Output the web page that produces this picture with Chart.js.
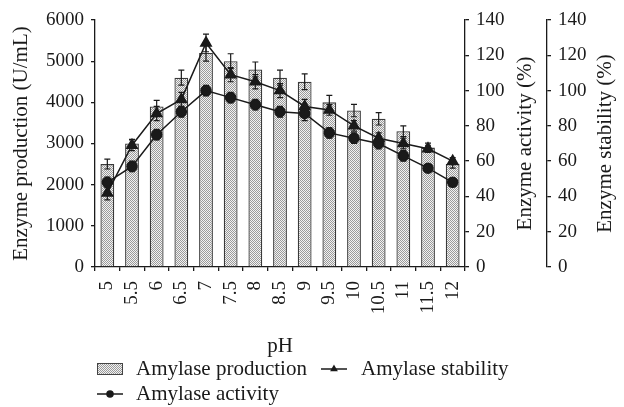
<!DOCTYPE html>
<html>
<head>
<meta charset="utf-8">
<script src="https://cdn.jsdelivr.net/npm/chart.js@4.4.1/dist/chart.umd.min.js"></script>
<style>
  html, body { margin: 0; padding: 0; background: #fff; }
  #wrap { width: 624px; height: 407px; position: relative; }
</style>
</head>
<body>
<div id="wrap"><canvas id="phChart" width="624" height="407"></canvas></div>
<script>
// pH values on the x axis
const phLabels = ['5', '5.5', '6', '6.5', '7', '7.5', '8', '8.5', '9', '9.5', '10', '10.5', '11', '11.5', '12'];

// Amylase production (U/mL), left axis
const production = [2500, 3000, 3900, 4600, 5200, 5000, 4800, 4600, 4500, 4000, 3800, 3600, 3300, 2900, 2500];
const productionErr = [120, 100, 150, 180, 200, 180, 180, 180, 190, 170, 150, 150, 130, 110, 100];

// Amylase activity (%), right axis
const activity = [48, 57, 75, 88, 100, 96, 92, 88, 87, 76, 73, 70, 63, 56, 48];
const activityErr = [3, 3, 3, 3, 3, 3, 3, 3, 4, 3, 3, 3, 3, 2, 2];

// Amylase stability (%), right axis
const stability = [42, 69, 87, 95, 127, 109, 105, 100, 91, 89, 80, 73, 70, 67, 60];
const stabilityErr = [4, 3, 4, 4, 5, 4, 4, 4, 4, 3, 3, 3, 3, 2, 2];

const FONT = "'Liberation Serif', 'DejaVu Serif', serif";
const INK = '#1a1a1a';

const canvas = document.getElementById('phChart');
const ctx = canvas.getContext('2d');

// fine grey dot pattern like the printed bars
function makeDotPattern() {
    const tile = document.createElement('canvas');
    tile.width = 2; tile.height = 2;
    const g = tile.getContext('2d');
    g.fillStyle = '#f2f2f2';
    g.fillRect(0, 0, 2, 2);
    g.fillStyle = '#9a9a9a';
    g.fillRect(0, 0, 1, 1);
    g.fillRect(1, 1, 1, 1);
    return ctx.createPattern(tile, 'repeat');
}
const dots = makeDotPattern();

function drawWhiskers(chart, index) {
    const ds = chart.data.datasets[index];
    const meta = chart.getDatasetMeta(index);
    const yScale = chart.scales[ds.yAxisID];
    const c = chart.ctx;
    c.save();
    c.strokeStyle = INK;
    c.lineWidth = 1.2;
    meta.data.forEach((el, i) => {
        const x = el.x;
        const top = yScale.getPixelForValue(ds.data[i] + ds.errors[i]);
        const bot = yScale.getPixelForValue(ds.data[i] - ds.errors[i]);
        const cap = 3;
        c.beginPath();
        c.moveTo(x, top); c.lineTo(x, bot);
        c.moveTo(x - cap, top); c.lineTo(x + cap, top);
        c.moveTo(x - cap, bot); c.lineTo(x + cap, bot);
        c.stroke();
    });
    c.restore();
}

// error bars: bars get them on top, lines get them under the markers
const errorBars = {
    id: 'errorBars',
    beforeDatasetDraw(chart, args) {
        const ds = chart.data.datasets[args.index];
        if (ds.errors && ds.type === 'line') drawWhiskers(chart, args.index);
    },
    afterDatasetDraw(chart, args) {
        const ds = chart.data.datasets[args.index];
        if (ds.errors && ds.type === 'bar') drawWhiskers(chart, args.index);
    }
};

// axis titles (right ones read bottom-to-top) + legend under the chart
const decorations = {
    id: 'decorations',
    afterDraw(chart) {
        const c = chart.ctx;
        const area = chart.chartArea;
        const midY = (area.top + area.bottom) / 2;
        c.save();
        c.fillStyle = INK;
        c.font = '21px ' + FONT;
        c.textAlign = 'center';
        c.textBaseline = 'middle';

        const vTitle = (x, text) => {
            c.save();
            c.translate(x, midY);
            c.rotate(-Math.PI / 2);
            c.fillText(text, 0, 0);
            c.restore();
        };
        vTitle(21, 'Enzyme production (U/mL)');
        vTitle(chart.scales.y1.left + 60, 'Enzyme activity (%)');
        vTitle(chart.scales.y2.left + 58, 'Enzyme stability (%)');

        // legend
        c.textAlign = 'left';
        const row1 = 369, row2 = 394;
        // bar swatch
        c.fillStyle = dots;
        c.fillRect(97, row1 - 6, 26, 12);
        c.strokeStyle = '#444';
        c.lineWidth = 1;
        c.strokeRect(97.5, row1 - 5.5, 25, 11);
        c.fillStyle = INK;
        c.fillText('Amylase production', 136, row1);

        // line swatches
        const lineSwatch = (x, y, style) => {
            c.strokeStyle = INK;
            c.lineWidth = 1.5;
            c.beginPath();
            c.moveTo(x, y); c.lineTo(x + 26, y);
            c.stroke();
            Chart.helpers.drawPoint(c, { pointStyle: style, radius: 3, borderWidth: 1 }, x + 13, y);
        };
        c.fillStyle = INK;
        lineSwatch(321, row1, 'triangle');
        c.fillText('Amylase stability', 361, row1);
        c.fillStyle = INK;
        lineSwatch(97, row2, 'circle');
        c.fillText('Amylase activity', 136, row2);
        c.restore();
    }
};

const tickFont = { family: FONT, size: 19 };
const axisLine = { color: INK, width: 1.3 };
const axisGrid = { drawOnChartArea: false, tickLength: 4, color: INK, lineWidth: 1.3 };
const plainNumber = (v) => String(v);

new Chart(ctx, {
    data: {
        labels: phLabels,
        datasets: [
            {
                type: 'line',
                label: 'Amylase stability',
                data: stability,
                errors: stabilityErr,
                yAxisID: 'y2',
                borderColor: INK,
                backgroundColor: INK,
                borderWidth: 1.5,
                pointStyle: 'triangle',
                pointRadius: 6,
                tension: 0,
                order: 1
            },
            {
                type: 'line',
                label: 'Amylase activity',
                data: activity,
                errors: activityErr,
                yAxisID: 'y1',
                borderColor: INK,
                backgroundColor: INK,
                borderWidth: 1.5,
                pointStyle: 'circle',
                pointRadius: 5,
                tension: 0,
                order: 2
            },
            {
                type: 'bar',
                label: 'Amylase production',
                data: production,
                errors: productionErr,
                yAxisID: 'y',
                backgroundColor: dots,
                borderColor: '#3a3a3a',
                borderWidth: 1.3,
                barPercentage: 0.56,
                categoryPercentage: 1,
                order: 3
            }
        ]
    },
    options: {
        responsive: false,
        animation: false,
        events: [],
        layout: { padding: { top: 20, right: 4, bottom: 43, left: 0 } },
        plugins: {
            legend: { display: false },
            tooltip: { enabled: false }
        },
        scales: {
            x: {
                border: axisLine,
                grid: { drawOnChartArea: false, tickLength: 4, color: INK, lineWidth: 1.3 },
                ticks: { font: tickFont, color: INK, minRotation: 90, maxRotation: 90, padding: 10, autoSkip: false },
                title: { display: true, text: 'pH', font: { family: FONT, size: 21 }, color: INK, padding: { top: 18, bottom: 5 } },
                afterFit: (s) => { s.height = 97; }
            },
            y: {
                position: 'left',
                min: 0, max: 6000,
                border: axisLine,
                grid: axisGrid,
                ticks: { stepSize: 1000, font: tickFont, color: INK, padding: 7, callback: plainNumber },
                afterFit: (s) => { s.width = 95; }
            },
            y1: {
                position: 'right',
                min: 0, max: 140,
                border: axisLine,
                grid: axisGrid,
                ticks: { stepSize: 20, font: tickFont, color: INK, padding: 7, callback: plainNumber },
                afterFit: (s) => { s.width = 82; }
            },
            y2: {
                position: 'right',
                min: 0, max: 140,
                border: axisLine,
                grid: axisGrid,
                ticks: { stepSize: 20, font: tickFont, color: INK, padding: 7, callback: plainNumber },
                afterFit: (s) => { s.width = 73; }
            }
        }
    },
    plugins: [errorBars, decorations]
});
</script>
</body>
</html>
